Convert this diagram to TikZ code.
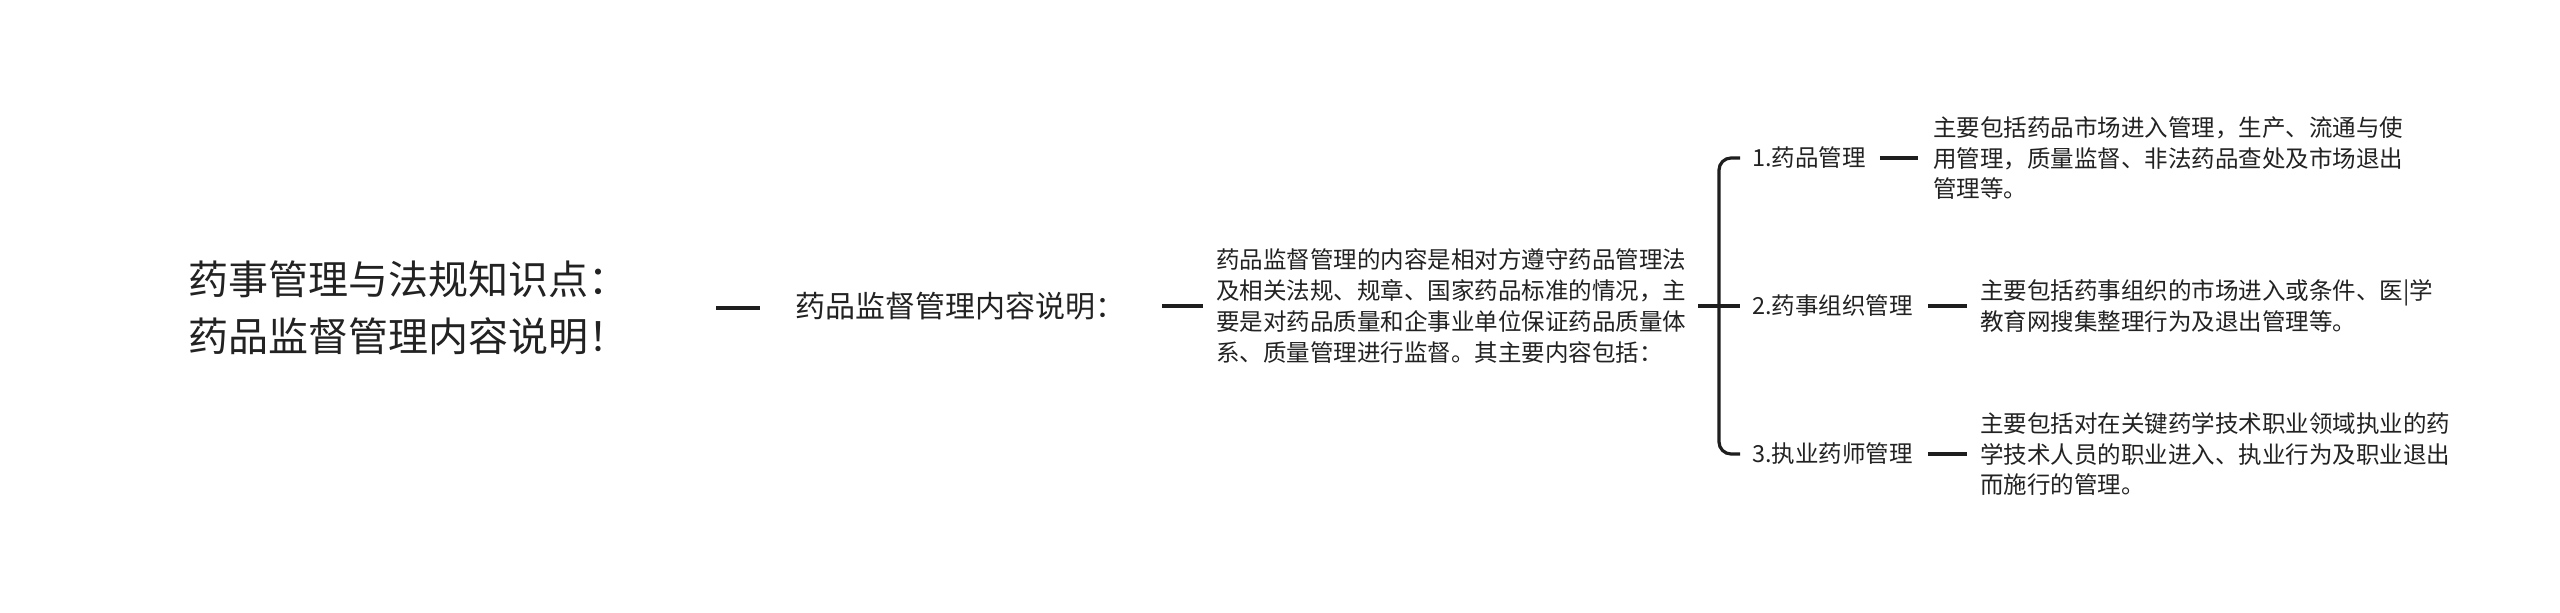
\documentclass[tikz,border=0pt]{standalone}
\usepackage{fontspec}
\newfontfamily\cjk{Noto Sans CJK SC}
\definecolor{txt}{RGB}{34,34,34}
\definecolor{ln}{RGB}{30,30,30}
\begin{document}
\begin{tikzpicture}[x=1pt,y=-1pt,
  every node/.style={inner sep=0pt, anchor=west, text=txt},
  big/.style={font=\cjk\fontsize{40}{57}\selectfont, align=left},
  mid/.style={font=\cjk\fontsize{30}{36}\selectfont},
  small/.style={font=\cjk\fontsize{23.5}{30.7}\selectfont, align=left},
  link/.style={draw=ln, line width=3.2pt}]
\useasboundingbox[fill=white] (0,0) rectangle (2560,613);

\node[big] (root) at (188,308) {药事管理与法规知识点：\\药品监督管理内容说明！};
\node[mid] (n2) at (795,306) {药品监督管理内容说明：};
\node[small] (n3) at (1216,306) {药品监督管理的内容是相对方遵守药品管理法\\及相关法规、规章、国家药品标准的情况，主\\要是对药品质量和企事业单位保证药品质量体\\系、质量管理进行监督。其主要内容包括：};
\node[small] (k1) at (1752,158) {1.药品管理};
\node[small] (k2) at (1752,306) {2.药事组织管理};
\node[small] (k3) at (1752,454) {3.执业药师管理};
\node[small] (l1) at (1933,158) {主要包括药品市场进入管理，生产、流通与使\\用管理，质量监督、非法药品查处及市场退出\\管理等。};
\node[small] (l2) at (1980,306) {主要包括药事组织的市场进入或条件、医|学\\教育网搜集整理行为及退出管理等。};
\node[small] (l3) at (1980,454) {主要包括对在关键药学技术职业领域执业的药\\学技术人员的职业进入、执业行为及职业退出\\而施行的管理。};

\draw[link, shorten <=88pt, shorten >=35pt] (root.east) -- (root.east -| n2.west);
\draw[link, shorten <=37pt, shorten >=13pt] (n2.east) -- (n3.west);
\draw[link, shorten <=12pt, shorten >=12pt] (n3.east) -- (k2.west);
\draw[link, rounded corners=12pt] ([xshift=-12pt]k1.west) -| ([xshift=-33pt]k2.west) |- ([xshift=-12pt]k3.west);
\draw[link, shorten <=14pt, shorten >=15pt] (k1.east) -- (l1.west);
\draw[link, shorten <=15pt, shorten >=13pt] (k2.east) -- (l2.west);
\draw[link, shorten <=15pt, shorten >=13pt] (k3.east) -- (l3.west);
\end{tikzpicture}
\end{document}
